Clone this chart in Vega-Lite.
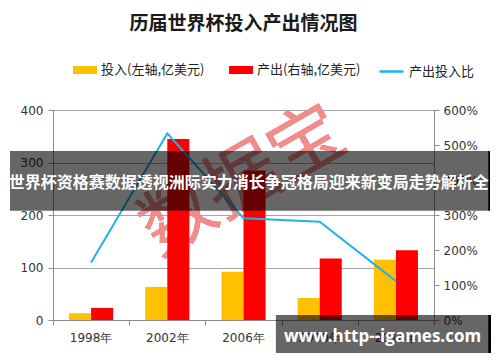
{
  "$schema": "https://vega.github.io/schema/vega-lite/v6.json",
  "width": 381,
  "height": 210,
  "autosize": "none",
  "padding": {"left": 53, "top": 110, "right": 66, "bottom": 42},
  "background": "white",
  "title": {
    "text": "历届世界杯投入产出情况图",
    "font": "Noto Sans CJK SC",
    "fontSize": 19,
    "fontWeight": "bold",
    "color": "#1a1a1a",
    "anchor": "middle",
    "frame": "group",
    "offset": 24
  },
  "config": {
    "view": {"stroke": null},
    "axis": {
      "labelFont": "DejaVu Sans",
      "labelFontSize": 12,
      "labelColor": "#333333",
      "domainColor": "#8c8c8c",
      "tickColor": "#8c8c8c",
      "gridColor": "#a6a6a6",
      "title": null
    },
    "legend": {
      "labelFont": "Noto Sans CJK SC",
      "labelFontSize": 13,
      "labelColor": "#222222",
      "labelOffset": 4,
      "title": null
    }
  },
  "datasets": {
    "bars": [
      {"year": "1998年", "series": "投入(左轴,亿美元)", "value": 13},
      {"year": "1998年", "series": "产出(右轴,亿美元)", "value": 23},
      {"year": "2002年", "series": "投入(左轴,亿美元)", "value": 63},
      {"year": "2002年", "series": "产出(右轴,亿美元)", "value": 345},
      {"year": "2006年", "series": "投入(左轴,亿美元)", "value": 92},
      {"year": "2006年", "series": "产出(右轴,亿美元)", "value": 285},
      {"year": "2010年", "series": "投入(左轴,亿美元)", "value": 42},
      {"year": "2010年", "series": "产出(右轴,亿美元)", "value": 117},
      {"year": "2014年", "series": "投入(左轴,亿美元)", "value": 115},
      {"year": "2014年", "series": "产出(右轴,亿美元)", "value": 133}
    ],
    "ratio": [
      {"year": "1998年", "ratio": 1.64},
      {"year": "2002年", "ratio": 5.33},
      {"year": "2006年", "ratio": 2.91},
      {"year": "2010年", "ratio": 2.81},
      {"year": "2014年", "ratio": 1.11}
    ]
  },
  "layer": [
    {
      "data": {"name": "bars"},
      "layer": [
        {
          "mark": {
            "type": "text",
            "text": "数据宝",
            "font": "Noto Sans CJK SC",
            "fontSize": 74,
            "angle": 330,
            "fill": "#f08a8a",
            "opacity": 0.3,
            "align": "center",
            "baseline": "middle"
          },
          "encoding": {
            "x": {"datum": "2006年"},
            "y": {"datum": 262}
          }
        },
        {
          "mark": {"type": "bar"},
          "encoding": {
            "x": {
              "field": "year",
              "type": "nominal",
              "sort": null,
              "scale": {"domain": ["1998年", "2002年", "2006年", "2010年", "2014年"], "paddingInner": 0, "paddingOuter": 0},
              "axis": {"labelAngle": 0, "ticks": false, "labelPadding": 17, "domain": true, "labelAlign": "center"}
            },
            "xOffset": {
              "field": "series",
              "type": "nominal",
              "sort": null,
              "scale": {"paddingInner": 0, "paddingOuter": 0.727}
            },
            "y": {
              "field": "value",
              "type": "quantitative",
              "scale": {"domain": [0, 400], "nice": false},
              "axis": {
                "values": [0, 50, 100, 150, 200, 250, 300, 350, 400],
                "grid": true,
                "tickSize": 5,
                "labelPadding": 5
              }
            },
            "color": {
              "field": "series",
              "type": "nominal",
              "sort": null,
              "scale": {
                "domain": ["投入(左轴,亿美元)", "产出(右轴,亿美元)"],
                "range": ["#FFC000", "#FF0000"]
              },
              "legend": {
                "orient": "none",
                "legendX": 20,
                "legendY": -52,
                "direction": "horizontal",
                "columnPadding": 24,
                "symbolType": "M-1,-0.333H1V0.333H-1Z",
                "symbolSize": 576,
                "symbolStrokeWidth": 0
              }
            }
          }
        }
      ]
    },
    {
      "data": {"name": "ratio"},
      "mark": {"type": "line", "strokeWidth": 2},
      "encoding": {
        "x": {
          "field": "year",
          "type": "nominal",
          "sort": null,
          "scale": {"domain": ["1998年", "2002年", "2006年", "2010年", "2014年"], "paddingInner": 0, "paddingOuter": 0},
          "axis": null
        },
        "y": {
          "field": "ratio",
          "type": "quantitative",
          "scale": {"domain": [0, 6], "nice": false},
          "axis": {
            "orient": "right",
            "values": [0, 1, 2, 3, 4, 5, 6],
            "format": ".0%",
            "grid": false,
            "tickSize": 5,
            "labelPadding": 4
          }
        },
        "stroke": {
          "datum": "产出投入比",
          "type": "nominal",
          "scale": {"range": ["#1FB2EC"]},
          "legend": {
            "orient": "none",
            "legendX": 325,
            "legendY": -52,
            "symbolType": "stroke",
            "symbolSize": 576,
            "symbolStrokeWidth": 2.5
          }
        }
      }
    },
    {
      "data": {"values": [{}]},
      "layer": [
        {
          "mark": {"type": "rect", "fill": "#000000", "opacity": 0.6},
          "encoding": {
            "x": {
              "datum": -11.3,
              "type": "quantitative",
              "scale": {"domain": [0, 100], "nice": false, "zero": false},
              "axis": {"orient": "bottom", "values": [0, 20, 40, 60, 80, 100], "labels": false, "domain": false, "grid": false, "ticks": true, "tickSize": 5}
            },
            "x2": {"datum": 114.2},
            "y": {"datum": 80.5, "type": "quantitative", "scale": {"domain": [0, 100], "nice": false, "zero": false}, "axis": null},
            "y2": {"datum": 52}
          }
        },
        {
          "mark": {"type": "rect", "fill": "#000000"},
          "encoding": {
            "x": {"datum": 114.2, "type": "quantitative"},
            "x2": {"datum": 114.7},
            "y": {"datum": 80.5, "type": "quantitative"},
            "y2": {"datum": 52}
          }
        },
        {
          "mark": {
            "type": "text",
            "text": "世界杯资格赛数据透视洲际实力消长争冠格局迎来新变局走势解析全",
            "font": "Noto Sans CJK SC",
            "fontSize": 16,
            "fontWeight": "bold",
            "fill": "#ffffff",
            "align": "center",
            "baseline": "middle"
          },
          "encoding": {
            "x": {"datum": 51.4, "type": "quantitative"},
            "y": {"datum": 65.2, "type": "quantitative"}
          }
        },
        {
          "mark": {"type": "rect", "fill": "#000000", "opacity": 0.6},
          "encoding": {
            "x": {"datum": 58.5, "type": "quantitative"},
            "x2": {"datum": 114.2},
            "y": {"datum": 2.4, "type": "quantitative"},
            "y2": {"datum": -15.7}
          }
        },
        {
          "mark": {"type": "rect", "fill": "#000000"},
          "encoding": {
            "x": {"datum": 114.2, "type": "quantitative"},
            "x2": {"datum": 114.96},
            "y": {"datum": 2.4, "type": "quantitative"},
            "y2": {"datum": -15.7}
          }
        },
        {
          "mark": {
            "type": "text",
            "text": "www.http--igames.com",
            "font": "Open Sans",
            "fontSize": 17,
            "fontWeight": "bold",
            "fill": "#ffffff",
            "align": "center",
            "baseline": "middle"
          },
          "encoding": {
            "x": {"datum": 86.5, "type": "quantitative"},
            "y": {"datum": -8.1, "type": "quantitative"}
          }
        }
      ]
    }
  ],
  "resolve": {"scale": {"x": "independent", "y": "independent"}}
}
